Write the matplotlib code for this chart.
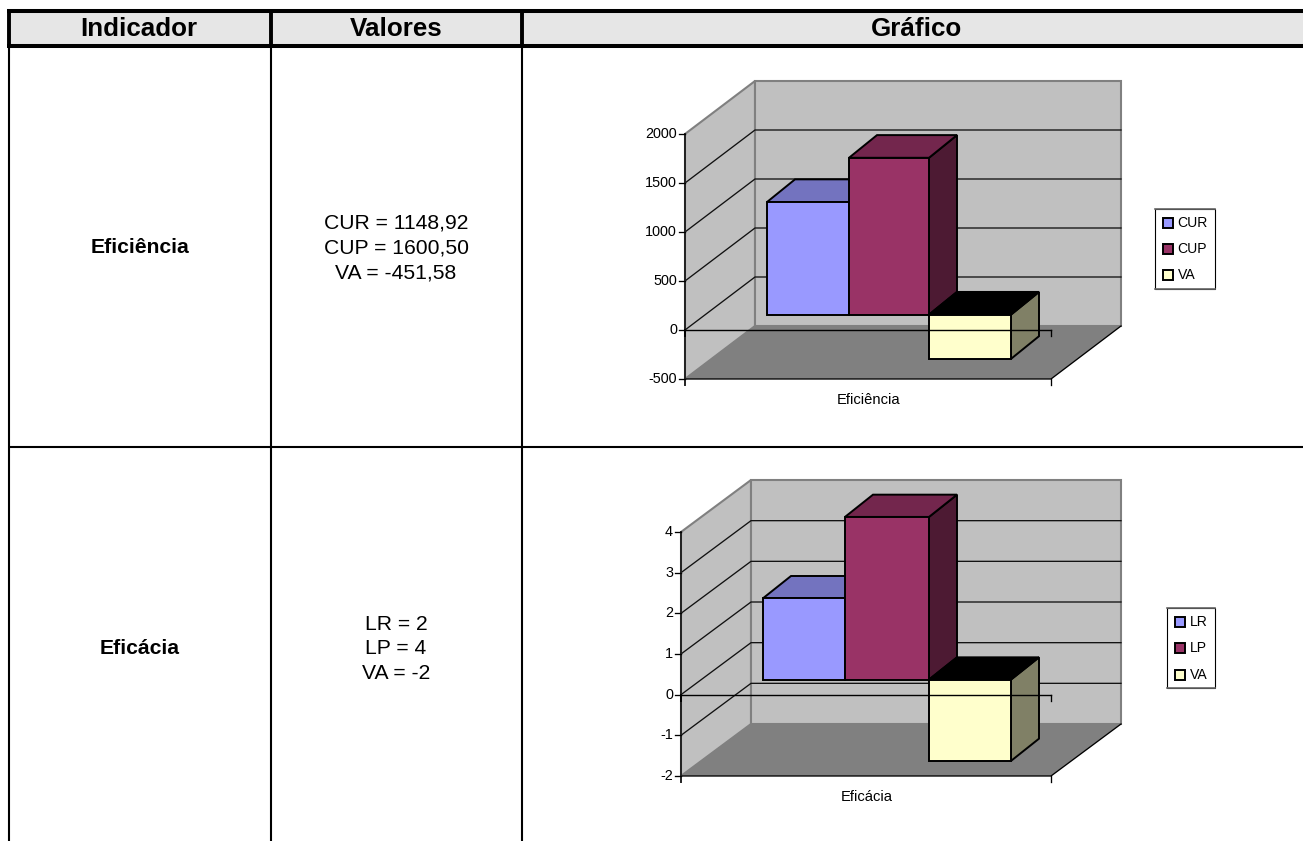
import matplotlib
matplotlib.use("Agg")
import matplotlib.pyplot as plt
from matplotlib.patches import Polygon, Rectangle

plt.rcParams["font.family"] = ["Liberation Sans", "DejaVu Sans"]

W, H = 1303, 841
DPI = 100

# Table content
headers = ["Indicador", "Valores", "Gráfico"]
indicators = ["Eficiência", "Eficácia"]
values_text = ["CUR = 1148,92\nCUP = 1600,50\nVA = -451,58", "LR = 2\nLP = 4\nVA = -2"]

# Chart data
eff_series = ["CUR", "CUP", "VA"]
eff_values = [1148.92, 1600.50, -451.58]
eff_ticks = [-500, 0, 500, 1000, 1500, 2000]

efc_series = ["LR", "LP", "VA"]
efc_values = [2, 4, -2]
efc_ticks = [-2, -1, 0, 1, 2, 3, 4]

# front, top and side faces for each series
FRONT = ["#9999FF", "#993366", "#FFFFCC"]
TOP = ["#7373BF", "#73264D", "#000000"]
SIDE = ["#59598F", "#4D1A33", "#808066"]

fig = plt.figure(figsize=(W / DPI, H / DPI), dpi=DPI, facecolor="white")

# Table grid, drawn in pixel coordinates
tbl = fig.add_axes([0, 0, 1, 1])
tbl.set_xlim(0, W)
tbl.set_ylim(H, 0)
tbl.axis("off")

COL_X = [8.5, 271, 522, W]
HEAD_TOP, HEAD_BOTTOM, ROW_LINE = 11, 45.5, 447
tbl.add_patch(Rectangle((COL_X[0], HEAD_TOP), W - COL_X[0], HEAD_BOTTOM - HEAD_TOP,
                        facecolor="#E6E6E6", edgecolor="none"))
for x in COL_X[:3]:
    tbl.plot([x, x], [HEAD_TOP, HEAD_BOTTOM], color="black", lw=2.8, solid_capstyle="butt")
    tbl.plot([x, x], [HEAD_BOTTOM, H], color="black", lw=1.5, solid_capstyle="butt")
tbl.plot([COL_X[0] - 2, W], [HEAD_TOP, HEAD_TOP], color="black", lw=2.9, solid_capstyle="butt")
tbl.plot([COL_X[0] - 2, W], [HEAD_BOTTOM, HEAD_BOTTOM], color="black", lw=2.9, solid_capstyle="butt")
tbl.plot([COL_X[0], W], [ROW_LINE, ROW_LINE], color="black", lw=1.5, solid_capstyle="butt")

HEADER_X = [139, 396, 917]
for x, label in zip(HEADER_X, headers):
    tbl.text(x, 29, label, ha="center", va="center", fontsize=18.7, fontweight="bold")
ROW_CENTERS = [247, 648]
for yc, name, vals in zip(ROW_CENTERS, indicators, values_text):
    tbl.text(140, yc, name, ha="center", va="center", fontsize=15.2, fontweight="bold")
    tbl.text(396, yc + 1, vals, ha="center", va="center", fontsize=15.2, linespacing=1.39)


def draw_chart(series, values, ticks, label, left, right, top, bottom, depth_y,
               bar_lefts, bar_widths, legend_box, swatch_x, swatch_ys):
    """Oblique pseudo-3D column chart on an axes spanning the front plot plane."""
    ax = fig.add_axes([left / W, 1 - bottom / H, (right - left) / W, (bottom - top) / H])
    ax.set_xlim(0, right - left)
    ax.set_ylim(ticks[0], ticks[-1])
    ax.axis("off")

    per_px = (ticks[-1] - ticks[0]) / (bottom - top)
    dx = 70.0
    dy = depth_y * per_px

    def P(x, v, d=0.0):
        return (x + d * dx, v + d * dy)

    def B(x, v, d):
        # columns are drawn slightly steeper than the walls
        return (x + d * dx, v + (0.29 + (d - 0.3) * 1.07) * dy)

    def face(pts, fc, ec="none", lw=0.0, z=1):
        ax.add_patch(Polygon(pts, closed=True, facecolor=fc, edgecolor=ec, linewidth=lw,
                             joinstyle="miter", clip_on=False, zorder=z))

    vmin, vmax = ticks[0], ticks[-1]
    xw = right - left

    # Walls and floor
    face([P(0, vmin), P(0, vmax), P(0, vmax, 1), P(0, vmin, 1)], "#C0C0C0", "#808080", 1.5)
    face([P(0, vmin, 1), P(0, vmax, 1), P(xw, vmax, 1), P(xw, vmin, 1)], "#C0C0C0", "#808080", 1.5)
    face([P(0, vmin), P(0, vmin, 1), P(xw, vmin, 1), P(xw, vmin)], "#808080", "none", 0, z=1.5)

    # Gridlines across the side wall and back wall
    for t in ticks[1:-1]:
        ax.plot(*zip(P(0, t), P(0, t, 1), P(xw, t, 1)), color="#111111", lw=0.95,
                clip_on=False, zorder=2)

    # Floor edges
    ax.plot(*zip(P(0, vmin), P(xw, vmin), P(xw, vmin, 1)), color="black", lw=0.95,
            clip_on=False, zorder=2)

    # Columns: they start at depth 0.3 and end at depth 0.7
    d0, d1 = 0.3, 0.7
    for i, val in enumerate(values):
        x0, x1 = bar_lefts[i] - left - d0 * dx, bar_lefts[i] - left - d0 * dx + bar_widths[i]
        hi, lo = max(val, 0), min(val, 0)
        z = 3 + i
        kw = dict(ec="black", lw=1.4, z=z)
        face([B(x1, lo, d0), B(x1, hi, d0), B(x1, hi, d1), B(x1, lo, d1)], SIDE[i], **kw)
        face([B(x0, hi, d0), B(x0, hi, d1), B(x1, hi, d1), B(x1, hi, d0)], TOP[i], **kw)
        face([B(x0, lo, d0), B(x0, hi, d0), B(x1, hi, d0), B(x1, lo, d0)], FRONT[i], **kw)

    # Axes on the front plane
    tick_px = 6 * per_px
    ax.plot([0, 0], [vmin - tick_px, vmax], color="#222222", lw=1.4, clip_on=False, zorder=8)
    ax.plot([0, xw], [0, 0], color="black", lw=1.0, clip_on=False, zorder=8)
    for t in ticks:
        ax.plot([-6, 0], [t, t], color="black", lw=0.95, clip_on=False, zorder=8)
        ax.text(-8, t, str(t), ha="right", va="center", fontsize=10.4, zorder=8)
    ax.plot([0, 0], [0, -tick_px], color="black", lw=1.4, clip_on=False, zorder=8)
    ax.plot([xw, xw], [0, -tick_px], color="black", lw=0.95, clip_on=False, zorder=8)
    ax.plot([xw, xw], [vmin, vmin - tick_px], color="black", lw=0.95, clip_on=False, zorder=8)
    ax.text(xw / 2 + 1, vmin - 21 * per_px, label, ha="center", va="center",
            fontsize=10.6, zorder=8)

    # Legend
    lx0, ly0, lx1, ly1 = legend_box
    tbl.add_patch(Rectangle((lx0, ly0), lx1 - lx0, ly1 - ly0, facecolor="white",
                            edgecolor="black", linewidth=0.8))
    tbl.plot([lx0, lx1], [ly0, ly0], color="#666666", lw=1.2)
    tbl.plot([lx0, lx1], [ly1, ly1], color="#666666", lw=1.2)
    for i, name in enumerate(series):
        tbl.add_patch(Rectangle((swatch_x, swatch_ys[i] - 5), 10, 10, facecolor=FRONT[i],
                                edgecolor="black", linewidth=1.4))
        tbl.text(swatch_x + 14.5, swatch_ys[i], name, ha="left", va="center", fontsize=10.1)


draw_chart(eff_series, eff_values, eff_ticks, indicators[0],
           left=685, right=1051, top=134, bottom=379, depth_y=53,
           bar_lefts=[767, 849, 929], bar_widths=[82, 80, 82],
           legend_box=(1155, 209, 1215, 289), swatch_x=1163, swatch_ys=[223, 249, 275])

draw_chart(efc_series, efc_values, efc_ticks, indicators[1],
           left=681, right=1051, top=532, bottom=776, depth_y=52,
           bar_lefts=[763, 845, 929], bar_widths=[82, 84, 82],
           legend_box=(1167, 608, 1215, 688), swatch_x=1175, swatch_ys=[622, 648, 675])

fig.savefig("out.png", dpi=DPI)
